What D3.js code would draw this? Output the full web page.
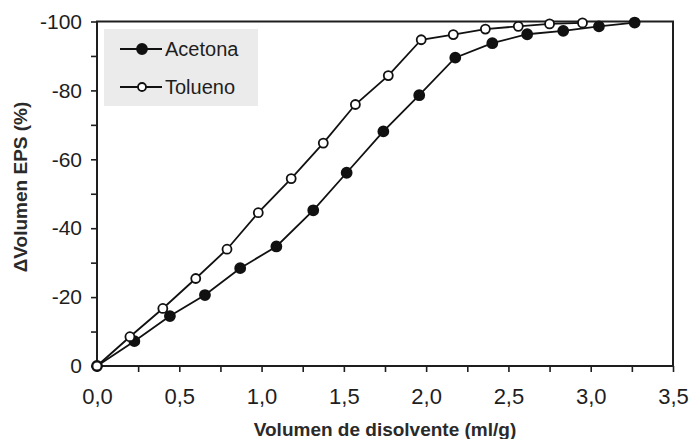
<!DOCTYPE html>
<html lang="es">
<head>
<meta charset="UTF-8">
<title>Volumen EPS</title>
<style>
  html, body { margin: 0; padding: 0; background: #fff; }
  svg text { font-family: "Liberation Sans", Arial, sans-serif; fill: #1e1e1e; }
</style>
</head>
<body>
<div id="chart"></div>
<script src="https://cdn.jsdelivr.net/npm/d3@7"></script>
<script>
// data
var tolX = [0, 0.2, 0.4, 0.6, 0.79, 0.98, 1.18, 1.375, 1.57, 1.77, 1.97, 2.165, 2.36, 2.56, 2.75, 2.95];
var tolY = [0, -8.5, -16.7, -25.4, -33.9, -44.5, -54.4, -64.7, -75.9, -84.3, -94.7, -96.2, -97.8, -98.6, -99.3, -99.6];
var aceX = [0, 0.227, 0.443, 0.656, 0.87, 1.09, 1.314, 1.517, 1.74, 1.958, 2.177, 2.402, 2.614, 2.833, 3.05, 3.267];
var aceY = [0, -7.2, -14.5, -20.6, -28.4, -34.7, -45.2, -56.1, -68.1, -78.6, -89.5, -93.7, -96.3, -97.3, -98.6, -99.7];
var seriesNames = ["Acetona", "Tolueno"];
var xTicks = [0, 0.5, 1, 1.5, 2, 2.5, 3, 3.5];
var yTicks = [0, -20, -40, -60, -80, -100];

var W = 693, H = 439;
var margin = {top: 21.5, right: 20, bottom: 73, left: 97};
var width = W - margin.left - margin.right,
    height = H - margin.top - margin.bottom;

var svg = d3.select("#chart").append("svg")
    .attr("width", W)
    .attr("height", H);

var g = svg.append("g")
    .attr("transform", "translate(" + margin.left + "," + margin.top + ")");

var x = d3.scaleLinear().domain([0, 3.5]).range([0, width]);
var y = d3.scaleLinear().domain([0, -100]).range([height, 0]);

var fmtX = function(d) { return d3.format(".1f")(d).replace(".", ","); };

// minor ticks first (no labels)
g.append("g")
    .attr("transform", "translate(0," + height + ")")
    .call(d3.axisBottom(x).tickValues(d3.range(0.25, 3.5, 0.5)).tickSize(6).tickFormat(""))
    .call(a => a.select(".domain").remove());
g.append("g")
    .call(d3.axisLeft(y).tickValues(d3.range(-10, -100, -20)).tickSize(6).tickFormat(""))
    .call(a => a.select(".domain").remove());

var xAxis = g.append("g")
    .attr("transform", "translate(0," + height + ")")
    .call(d3.axisBottom(x).tickValues(xTicks).tickSize(6).tickPadding(12).tickFormat(fmtX));
xAxis.selectAll("text").style("font-size", "22px").attr("dy", "0.9em");

var yAxis = g.append("g")
    .call(d3.axisLeft(y).tickValues(yTicks).tickSize(6).tickPadding(9).tickFormat(d3.format("d")));
yAxis.selectAll("text").style("font-size", "21px").text(d => d === 0 ? "0" : "-" + Math.abs(d));

g.selectAll(".tick line").attr("stroke", "#1e1e1e").attr("stroke-width", 1.6);
g.selectAll(".domain").remove();

// frame
g.append("rect")
    .attr("x", 0).attr("y", 0)
    .attr("width", width).attr("height", height)
    .attr("fill", "none")
    .attr("stroke", "#1e1e1e")
    .attr("stroke-width", 2);

// legend box
var leg = g.append("g").attr("transform", "translate(7,7.5)");
leg.append("rect")
    .attr("width", 154).attr("height", 77)
    .attr("fill", "#ebebeb");

var aceData = aceX.map((v, i) => [v, aceY[i]]);
var tolData = tolX.map((v, i) => [v, tolY[i]]);

var line = d3.line().x(d => x(d[0])).y(d => y(d[1]));

[aceData, tolData].forEach(function(data, k) {
  g.append("path")
      .datum(data)
      .attr("fill", "none")
      .attr("stroke", "#111")
      .attr("stroke-width", 1.8)
      .attr("d", line);
  g.selectAll(".pt" + k)
      .data(data)
      .enter().append("circle")
      .attr("class", "pt" + k)
      .attr("cx", d => x(d[0]))
      .attr("cy", d => y(d[1]))
      .attr("r", k === 0 ? 5 : 4.5)
      .attr("fill", k === 0 ? "#111" : "#fff")
      .attr("stroke", "#111")
      .attr("stroke-width", 1.8);
});

seriesNames.forEach(function(name, i) {
  var ly = 20 + i * 38;
  leg.append("line")
      .attr("x1", 16).attr("x2", 58)
      .attr("y1", ly).attr("y2", ly)
      .attr("stroke", "#111").attr("stroke-width", 1.8);
  leg.append("circle")
      .attr("cx", 38).attr("cy", ly)
      .attr("r", i === 0 ? 5 : 4)
      .attr("fill", i === 0 ? "#111" : "#fff")
      .attr("stroke", "#111").attr("stroke-width", 1.8);
  leg.append("text")
      .attr("x", 61).attr("y", ly)
      .attr("dy", "0.36em")
      .style("font-size", "20px")
      .text(name);
});

// axis titles
svg.append("text")
    .attr("x", 385)
    .attr("y", 436)
    .attr("text-anchor", "middle")
    .style("font-size", "19px")
    .style("font-weight", "bold")
    .style("fill", "#2a2a2a")
    .text("Volumen de disolvente (ml/g)");

svg.append("text")
    .attr("transform", "translate(27,187) rotate(-90)")
    .attr("text-anchor", "middle")
    .style("font-size", "19px")
    .style("font-weight", "bold")
    .style("fill", "#2a2a2a")
    .text("\u0394Volumen EPS (%)");
</script>
</body>
</html>
